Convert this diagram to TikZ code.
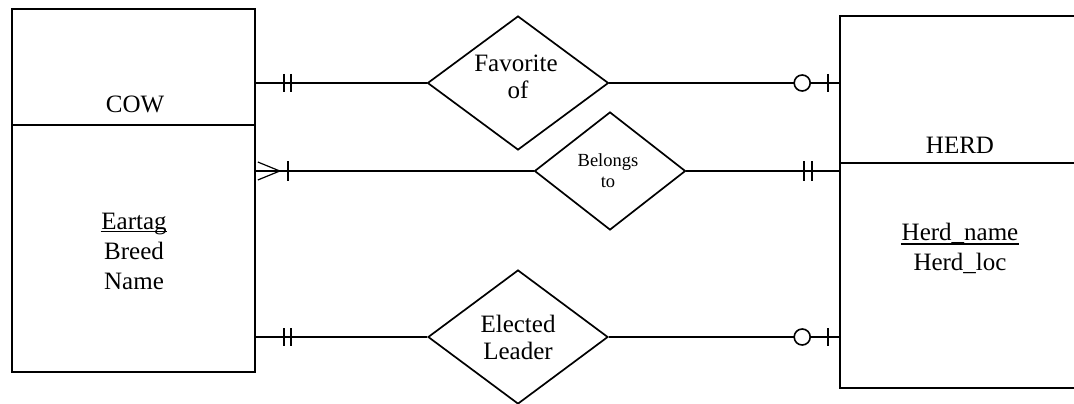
\documentclass[tikz,border=0pt]{standalone}
\usepackage{fontspec}
\setmainfont{Liberation Serif}
\usetikzlibrary{shapes.geometric}
\begin{document}
\begin{tikzpicture}[x=1pt,y=-1pt,line width=1.6pt,
  entity/.style={draw,rectangle,inner sep=0pt},
  rel/.style={draw,diamond,inner sep=0pt,line width=1.7pt},
  txt/.style={inner sep=0pt,anchor=base,font=\fontsize{25}{29}\selectfont},
  smalltxt/.style={txt,font=\fontsize{18.5}{21}\selectfont},
  prong/.style={line width=1.2pt}]
\useasboundingbox (0,0) rectangle (1074,404);
\clip (0,0) rectangle (1074,404);

% entities
\node[entity,minimum width=243pt,minimum height=363pt] (cow) at (133.5,190.5) {};
\draw (cow.west |- 0,125) -- (cow.east |- 0,125);
\node[entity,minimum width=240pt,minimum height=372pt] (herd) at (960,202) {};
\draw (herd.west |- 0,163) -- (herd.east |- 0,163);

% entity texts
\node[txt] (cowname) at (135,112) {COW};
\node[txt] (eartag) at (134,229) {Eartag};
\draw[line width=1.3pt] ([yshift=-2.5pt]eartag.base west) -- ([yshift=-2.5pt]eartag.base east);
\node[txt] (breed) at (134,259) {Breed};
\node[txt] (cname) at (134,289) {Name};
\node[txt] (herdname) at (960,153) {HERD};
\node[txt] (hname) at (960,240) {Herd\_name};
\draw[line width=1.3pt] ([yshift=-4pt]hname.base west) -- ([yshift=-4pt]hname.base east);
\node[txt] (hloc) at (960,270) {Herd\_loc};

% relationships
\node[rel,minimum width=181pt,minimum height=134pt] (fav) at (518,83) {};
\node[txt] (favA) at (516,72) {Favorite};
\node[txt] (favB) at (518,99) {of};
\node[rel,minimum width=151pt,minimum height=118pt] (bel) at (610,171) {};
\node[smalltxt] (belA) at (608,166) {Belongs};
\node[smalltxt] (belB) at (608,187) {to};
\node[rel,minimum width=180pt,minimum height=134pt] (ele) at (518,337) {};
\node[txt] (eleA) at (518,332) {Elected};
\node[txt] (eleB) at (518,359) {Leader};

% Favorite of: one and only one COW, zero or one HERD
\coordinate (fL) at (cow.east |- fav);
\coordinate (fR) at (herd.west |- fav);
\draw (fL) -- (fav);
\draw (fav) -- (fR);
\draw ([xshift=28pt]fL) ++(0,-9) -- ++(0,18);
\draw ([xshift=35pt]fL) ++(0,-9) -- ++(0,18);
\draw ([xshift=-11pt]fR) ++(0,-9) -- ++(0,18);
\draw[fill=white] ([xshift=-37pt]fR) circle[radius=8];

% Belongs to: one or many COWs, one and only one HERD
\coordinate (bL) at (cow.east |- bel);
\coordinate (bR) at (herd.west |- bel);
\draw (bL) -- (bel);
\draw (bel) -- (bR);
\draw[prong] ([xshift=2pt,yshift=9pt]bL) -- ([xshift=24pt]bL) -- ([xshift=2pt,yshift=-9pt]bL);
\draw ([xshift=32pt]bL) ++(0,-10) -- ++(0,20);
\draw ([xshift=-35pt]bR) ++(0,-10) -- ++(0,20);
\draw ([xshift=-27pt]bR) ++(0,-10) -- ++(0,20);

% Elected Leader: one and only one COW, zero or one HERD
\coordinate (eL) at (cow.east |- ele);
\coordinate (eR) at (herd.west |- ele);
\draw (eL) -- (ele);
\draw (ele) -- (eR);
\draw ([xshift=28pt]eL) ++(0,-9) -- ++(0,18);
\draw ([xshift=35pt]eL) ++(0,-9) -- ++(0,18);
\draw ([xshift=-11pt]eR) ++(0,-9) -- ++(0,18);
\draw[fill=white] ([xshift=-37pt]eR) circle[radius=8];
\end{tikzpicture}
\end{document}
